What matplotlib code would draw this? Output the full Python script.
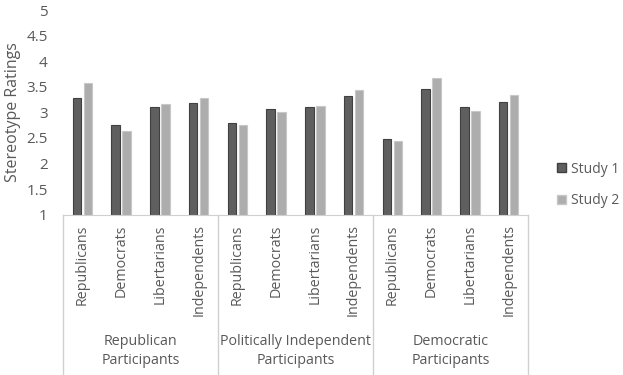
import matplotlib.pyplot as plt
import matplotlib.transforms as mtransforms
from matplotlib.patches import Patch
import numpy as np

plt.rcParams['font.family'] = ['Open Sans', 'DejaVu Sans']

targets = ['Republicans', 'Democrats', 'Libertarians', 'Independents']
groups = ['Republican\nParticipants', 'Politically Independent\nParticipants', 'Democratic\nParticipants']
study1 = [3.28, 2.75, 3.11, 3.18, 2.79, 3.07, 3.10, 3.31, 2.47, 3.46, 3.11, 3.20]
study2 = [3.57, 2.64, 3.16, 3.28, 2.75, 3.00, 3.13, 3.44, 2.44, 3.68, 3.03, 3.33]
yticks = [1, 1.5, 2, 2.5, 3, 3.5, 4, 4.5, 5]

text_col = '#595959'
W, H = 623, 375
fig = plt.figure(figsize=(W / 100, H / 100), dpi=100)
ax = fig.add_axes([63 / W, (H - 214.7) / H, (528 - 63) / W, (214.7 - 10) / H])

x = np.arange(len(study1))
bw = 0.22
ax.bar(x - bw / 2 - 0.03, study1, bw, bottom=0, color='#5f5f5f', edgecolor='#404040', linewidth=0.8)
ax.bar(x + bw / 2 + 0.03, study2, bw, bottom=0, color='#adadad', edgecolor='#c8c8c8', linewidth=0.8)

ax.set_ylim(1, 5)
ax.set_xlim(-0.5, len(x) - 0.5)
ax.set_yticks(yticks)
ax.set_yticklabels([f'{t:g}' for t in yticks])
ax.tick_params(axis='y', length=0, pad=11, labelsize=11, labelcolor=text_col)
ax.set_xticks(x)
ax.set_xticklabels(targets * 3, rotation=90, va='top', ha='center')
ax.tick_params(axis='x', length=0, pad=7, labelsize=10.3, labelcolor=text_col)
for s in ['top', 'right', 'left']:
    ax.spines[s].set_visible(False)
ax.spines['bottom'].set_color('#d0d0d0')
ax.set_ylabel('Stereotype Ratings', fontsize=11.5, color=text_col)
ax.yaxis.set_label_coords(-(63 - 21) / 465, 0.5)

# group separators and group labels below the axis
trans = mtransforms.blended_transform_factory(ax.transData, ax.transAxes)
bottom = -(375 - 214.7) / (214.7 - 10)
for sep in [-0.5, 3.5, 7.5, 11.5]:
    ax.plot([sep, sep], [0, bottom], transform=trans, color='#d0d0d0', lw=1, clip_on=False)
for i, g in enumerate(groups):
    ax.text(i * 4 + 1.5, -0.665, g, transform=trans, ha='center', va='center',
            fontsize=10.3, color=text_col, linespacing=1.4)

handles = [Patch(facecolor='#5f5f5f', edgecolor='#404040', label='Study 1'),
           Patch(facecolor='#adadad', edgecolor='#c8c8c8', label='Study 2')]
fig.legend(handles=handles, loc='center left', bbox_to_anchor=(557 / W, 1 - 185 / H),
           frameon=False, borderpad=0, borderaxespad=0, handlelength=0.65, handleheight=0.65,
           handletextpad=0.36, labelspacing=1.2, fontsize=10, labelcolor=text_col)

fig.savefig('out.png', dpi=100)
